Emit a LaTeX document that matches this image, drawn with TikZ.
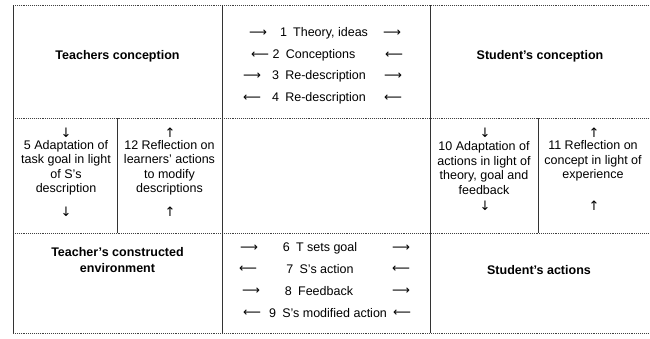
\documentclass[tikz,border=0pt]{standalone}
\usepackage{fontspec}
\setmainfont{Liberation Sans}
\newfontfamily\arrowfont{DejaVu Sans}
\begin{document}
\begin{tikzpicture}[x=1pt, y=-1pt,
        every node/.style={inner sep=0pt, font=\fontsize{12.5}{14.5}\selectfont},
        title/.style={align=center, font=\fontsize{12.5}{16}\selectfont\bfseries},
        cell/.style={align=center},
        harrow/.style={font=\fontsize{12.5}{14}\arrowfont},
        varrow/.style={font=\fontsize{13}{14}\arrowfont, text height=9pt, text depth=1pt},
        frame/.style={line width=0.8pt, black!80},
        band/.style={line width=0.7pt, black!75, dash pattern=on 0.7pt off 1.2pt}]
    \useasboundingbox (0,0) rectangle (650,338);

    % bands and columns
    \foreach \y in {5, 118, 233, 333}
        \draw[band] (13,\y) -- (648,\y);
    \foreach \x in {13, 222, 430}
        \draw[frame] (\x,5) -- (\x,333);
    \foreach \x in {117, 538}
        \draw[frame] (\x,118) -- (\x,233);

    % the four corner boxes
    \node[title] (tconc) at (117.5,56) {Teachers conception};
    \node[title] (sconc) at (540,56) {Student’s conception};
    \node[title] (tenv) at (117.5,260) {Teacher’s constructed\\environment};
    \node[title] (sact) at (539,270) {Student’s actions};

    % exchanges between teacher and student
    \foreach \n/\y/\x/\l/\r/\xl/\xr/\txt in {
        1/33/324/⟶/⟶/258/392/{1\enspace Theory, ideas},
        2/55/314/⟵/⟵/260/394/{2\enspace Conceptions},
        3/76/319/⟶/⟶/252/393/{3\enspace Re-description},
        4/98/319/⟵/⟵/252/393/{4\enspace Re-description},
        6/248/320/⟶/⟶/249/401/{6\enspace T sets goal},
        7/269/320/⟵/⟵/248/401/{7\enspace S’s action},
        8/291/319/⟶/⟶/251/401/{8\enspace Feedback},
        9/313/328/⟵/⟵/252/402/{9\enspace S’s modified action}%
    } {
        \node (m\n) at (\x,\y) {\txt};
        \node[harrow] (m\n l) at (\xl,\y) {\l};
        \node[harrow] (m\n r) at (\xr,\y) {\r};
    }

    % adaptation and reflection
    \node[cell] (c5) at (66,168) {5 Adaptation of\\task goal in light\\of S’s\\description};
    \node[cell] (c12) at (169.5,168) {12 Reflection on\\learners’ actions\\to modify\\descriptions};
    \node[cell] (c10) at (484,168) {10 Adaptation of\\actions in light of\\theory, goal and\\feedback};
    \node[cell] (c11) at (593,161) {11 Reflection on\\concept in light of\\experience};

    \foreach \c/\x/\t/\b/\yb in {
        5/66/↓/↓/212, 12/170/↑/↑/212,
        10/485/↓/↓/206, 11/594/↑/↑/206%
    } {
        \node[varrow] (c\c t) at (\x,133) {\t};
        \node[varrow] (c\c b) at (\x,\yb) {\b};
    }
\end{tikzpicture}
\end{document}
